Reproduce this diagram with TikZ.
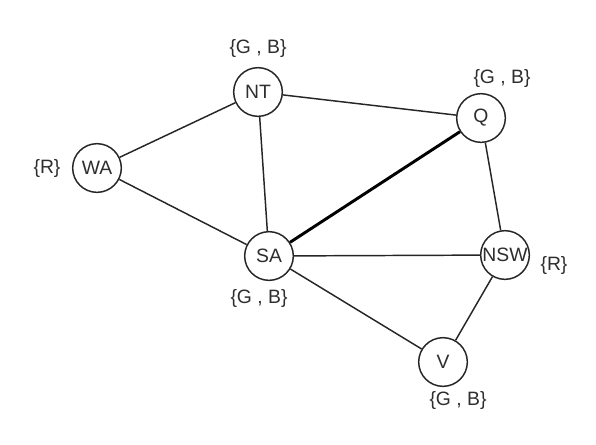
\documentclass[tikz,border=0pt]{standalone}
\usepackage{fontspec}
\setmainfont{Liberation Sans}
\usetikzlibrary{positioning}
\definecolor{ink}    {HTML}{262626}
\definecolor{softink}{HTML}{2E2E2E}
\tikzset{
  every node/.style={font=\fontsize{14.5}{16}\selectfont},
  % --- nodes
  region/.style = {circle, draw=ink, line width=1.1pt, fill=white,
                   minimum size=36.5pt, inner sep=0pt, text=softink},
  dom/.style    = {text=softink, inner sep=1pt},
  % --- edges
  e/.style      = {draw=ink, line width=1.1pt},
  ebold/.style  = {draw=black, line width=2.2pt},
}
\begin{document}
\begin{tikzpicture}[x=0.75pt, y=-0.75pt]
  \useasboundingbox (0,0) rectangle (596,444);
  \node[region] (wa)  at (97,168)  {WA};
  \node[region] (nt)  at (258,92)  {NT};
  \node[region] (q)   at (481,118) {Q};
  \node[region] (sa)  at (269,256) {SA};
  \node[region] (nsw) at (505,255) {NSW};
  \node[region] (v)   at (443,362) {V};
  \node[dom] (ntd)  at (258,48)  {\{G , B\}};
  \node[dom] (qd)   at (502,78)  {\{G , B\}};
  \node[dom] (wad)  at (47,168)  {\{R\}};
  \node[dom] (sad)  at (259,298) {\{G , B\}};
  \node[dom] (nswd) at (554,265) {\{R\}};
  \node[dom] (vd)   at (458,400) {\{G , B\}};
  \draw[e] (wa) -- (nt); \draw[e] (wa) -- (sa);
  \draw[e] (nt) -- (q);  \draw[e] (nt) -- (sa);
  \draw[ebold] (sa) -- (q);
  \draw[e] (q) -- (nsw); \draw[e] (sa) -- (nsw);
  \draw[e] (sa) -- (v);  \draw[e] (nsw) -- (v);
\end{tikzpicture}
\end{document}
